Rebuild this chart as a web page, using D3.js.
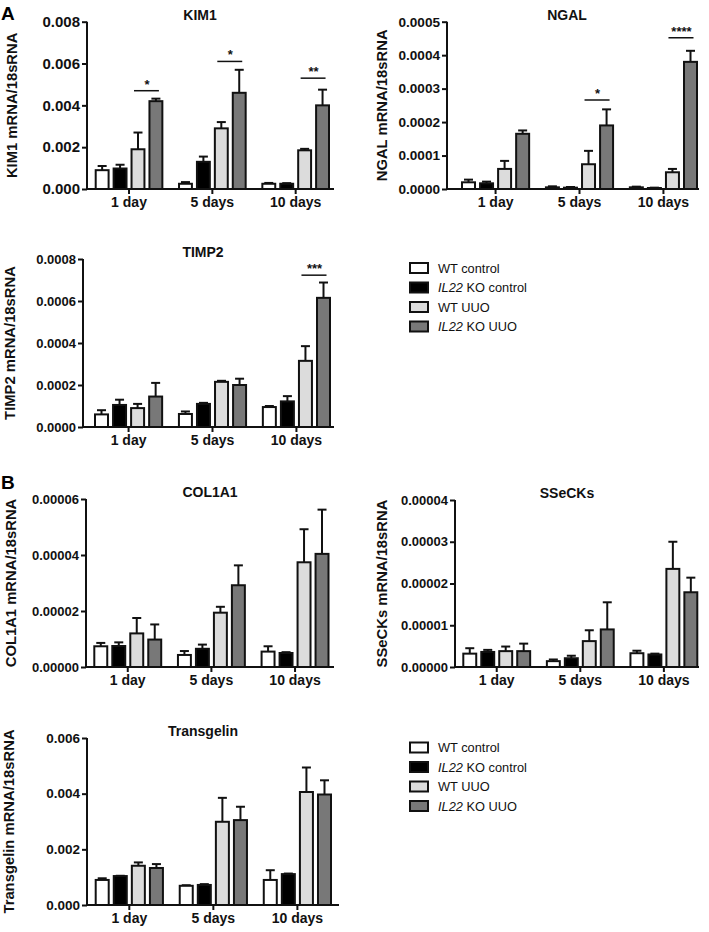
<!DOCTYPE html>
<html><head><meta charset="utf-8">
<script src="https://cdn.jsdelivr.net/npm/d3@7"></script>
<style>
body{margin:0;background:#fff;}
svg{display:block;}
text{font-family:"Liberation Sans",Arial,sans-serif;}
</style></head>
<body>
<svg id="chart" width="709" height="932"></svg>
<script>
// ---------- DATA ----------
const groups = ["1 day", "5 days", "10 days"];
const seriesNames = ["WT control", "IL22 KO control", "WT UUO", "IL22 KO UUO"];

// means [group][series] and SEM (upper error)
const kim1Mean = [[0.0009, 0.00098, 0.0019, 0.0042], [0.00025, 0.0013, 0.0029, 0.0046], [0.00025, 0.00025, 0.00185, 0.0040]];
const kim1Err  = [[0.0002, 0.00018, 0.0008, 0.00012], [0.00008, 0.00025, 0.0003, 0.0011], [0.00004, 0.00003, 0.00007, 0.00075]];
const kim1Ticks = [0, 0.002, 0.004, 0.006, 0.008];
const kim1Sig = [{g: 0, y: 0.0047, label: "*"}, {g: 1, y: 0.0061, label: "*"}, {g: 2, y: 0.0053, label: "**"}];

const ngalMean = [[0.00002, 0.000017, 0.00006, 0.000165], [0.000005, 0.000004, 0.000074, 0.00019], [0.000005, 0.000003, 0.00005, 0.00038]];
const ngalErr  = [[0.000008, 0.000005, 0.000024, 0.00001], [0.000003, 0.000002, 0.00004, 0.000048], [0.000002, 0.000001, 0.00001, 0.000033]];
const ngalTicks = [0, 0.0001, 0.0002, 0.0003, 0.0004, 0.0005];
const ngalSig = [{g: 1, y: 0.000266, label: "*"}, {g: 2, y: 0.000452, label: "****"}];

const timp2Mean = [[0.00006, 0.000105, 0.00009, 0.000145], [0.000062, 0.00011, 0.000215, 0.0002], [0.000095, 0.000122, 0.000315, 0.000615]];
const timp2Err  = [[0.00002, 0.000025, 0.00002, 0.000065], [0.000012, 0.000005, 0.000005, 0.00003], [0.000005, 0.000025, 0.00007, 0.000073]];
const timp2Ticks = [0, 0.0002, 0.0004, 0.0006, 0.0008];
const timp2Sig = [{g: 2, y: 0.000723, label: "***"}];

const col1a1Mean = [[0.0000074, 0.0000075, 0.000012, 0.0000098], [0.0000043, 0.0000065, 0.0000194, 0.0000292], [0.0000055, 0.000005, 0.0000374, 0.0000404]];
const col1a1Err  = [[0.0000012, 0.0000013, 0.0000055, 0.0000054], [0.0000014, 0.0000015, 0.0000021, 0.0000071], [0.0000019, 0.0000003, 0.0000118, 0.0000158]];
const col1a1Ticks = [0, 0.00002, 0.00004, 0.00006];
const col1a1Sig = [];

const ssecksMean = [[0.0000032, 0.0000036, 0.0000038, 0.0000038], [0.0000014, 0.0000021, 0.0000062, 0.000009], [0.0000033, 0.000003, 0.0000235, 0.0000179]];
const ssecksErr  = [[0.0000013, 0.0000005, 0.0000011, 0.0000018], [0.0000004, 0.0000006, 0.0000026, 0.0000065], [0.0000006, 0.0000002, 0.0000065, 0.0000035]];
const ssecksTicks = [0, 0.00001, 0.00002, 0.00003, 0.00004];
const ssecksSig = [];

const tagMean = [[0.0009, 0.00104, 0.00141, 0.00133], [0.00069, 0.00072, 0.00299, 0.00305], [0.0009, 0.00111, 0.00406, 0.00397]];
const tagErr  = [[0.00006, 0.00001, 0.00012, 0.00014], [0.00002, 0.00003, 0.00086, 0.00048], [0.00035, 0.00002, 0.00088, 0.00051]];
const tagTicks = [0, 0.002, 0.004, 0.006];
const tagSig = [];

// ---------- STYLE / LAYOUT ----------
const fills = ["#ffffff", "#000000", "#dcdcdc", "#787878"];
const FONT = '"Liberation Sans",Arial,sans-serif';

const panels = [
  {title: "KIM1", ylab: "KIM1 mRNA/18sRNA", mean: kim1Mean, err: kim1Err, ticks: kim1Ticks, sig: kim1Sig, dec: 3,
   x0: 87, x1: 334, b0: 95.7, b1: 329, yT: 21.7, yB: 189, labX: 11, tickFs: 15, titleX: 200},
  {title: "NGAL", ylab: "NGAL mRNA/18sRNA", mean: ngalMean, err: ngalErr, ticks: ngalTicks, sig: ngalSig, dec: 4,
   x0: 447, x1: 699, b0: 462, b1: 697, yT: 21.7, yB: 189, labX: 381, tickFs: 13.6, titleX: 567},
  {title: "TIMP2", ylab: "TIMP2 mRNA/18sRNA", mean: timp2Mean, err: timp2Err, ticks: timp2Ticks, sig: timp2Sig, dec: 4,
   x0: 83, x1: 334, b0: 95, b1: 330, yT: 259, yB: 427, labX: 9, tickFs: 13, titleX: 203},
  {title: "COL1A1", ylab: "COL1A1 mRNA/18sRNA", mean: col1a1Mean, err: col1a1Err, ticks: col1a1Ticks, sig: col1a1Sig, dec: 5,
   x0: 86, x1: 334, b0: 94.3, b1: 328.5, yT: 499, yB: 667, labX: 10, tickFs: 13, titleX: 210},
  {title: "SSeCKs", ylab: "SSeCKs mRNA/18sRNA", mean: ssecksMean, err: ssecksErr, ticks: ssecksTicks, sig: ssecksSig, dec: 5,
   x0: 455, x1: 699, b0: 463.3, b1: 697.3, yT: 500, yB: 667, labX: 381, tickFs: 13, titleX: 567},
  {title: "Transgelin", ylab: "Transgelin mRNA/18sRNA", mean: tagMean, err: tagErr, ticks: tagTicks, sig: tagSig, dec: 3,
   x0: 87, x1: 339, b0: 95.7, b1: 331, yT: 738, yB: 905, labX: 8, tickFs: 13.5, titleX: 203}
];

const svg = d3.select("#chart");

panels.forEach(p => {
  const g = svg.append("g");
  const x = d3.scaleBand().domain(groups).range([p.b0, p.b1]).paddingInner(0.2).paddingOuter(0);
  const xs = d3.scaleBand().domain(seriesNames).range([0, x.bandwidth()]).paddingInner(0.28).paddingOuter(0);
  const y = d3.scaleLinear().domain([0, p.ticks[p.ticks.length - 1]]).range([p.yB, p.yT]);
  const bw = xs.bandwidth();

  // bars
  groups.forEach((gr, gi) => {
    seriesNames.forEach((s, si) => {
      const v = p.mean[gi][si];
      const bx = x(gr) + xs(s);
      const cx = bx + bw / 2;
      const e = p.err[gi][si];
      g.append("line").attr("x1", cx).attr("x2", cx).attr("y1", y(v)).attr("y2", y(v + e))
        .attr("stroke", "#111").attr("stroke-width", 2);
      g.append("line").attr("x1", cx - 4.5).attr("x2", cx + 4.5).attr("y1", y(v + e)).attr("y2", y(v + e))
        .attr("stroke", "#111").attr("stroke-width", 2);
      g.append("rect").attr("x", bx).attr("width", bw)
        .attr("y", y(v)).attr("height", Math.max(0, y(0) - y(v)))
        .attr("fill", fills[si]).attr("stroke", "#111").attr("stroke-width", 2);
    });
  });

  // significance
  p.sig.forEach(sg => {
    const gr = groups[sg.g];
    const c3 = x(gr) + xs(seriesNames[2]) + bw / 2;
    const c4 = x(gr) + xs(seriesNames[3]) + bw / 2;
    const yy = y(sg.y);
    g.append("line").attr("x1", c3 - 4).attr("x2", c4 + 3).attr("y1", yy).attr("y2", yy)
      .attr("stroke", "#111").attr("stroke-width", 1.5);
    g.append("text").attr("x", (c3 + c4) / 2).attr("y", yy - 2).attr("text-anchor", "middle")
      .attr("font-size", 13).attr("font-weight", "bold").attr("fill", "#111").text(sg.label);
  });

  // axes
  const fmt = d3.format("." + p.dec + "f");
  const ya = g.append("g").attr("transform", `translate(${p.x0},0)`)
    .call(d3.axisLeft(y).tickValues(p.ticks).tickFormat(fmt).tickSize(5).tickSizeOuter(0).tickPadding(2));
  const xa = g.append("g").attr("transform", `translate(0,${p.yB})`)
    .call(d3.axisBottom(x).tickSize(5).tickSizeOuter(0).tickPadding(3));
  [ya, xa].forEach(a => {
    a.select(".domain").attr("stroke", "#111").attr("stroke-width", 2);
    a.selectAll(".tick line").attr("stroke", "#111").attr("stroke-width", 2);
    a.selectAll(".tick text").attr("fill", "#111").attr("font-weight", "bold")
      .attr("font-family", FONT).attr("font-size", p.tickFs);
  });
  xa.selectAll(".tick text").attr("font-size", 14);
  ya.select(".domain").attr("d", `M0,${p.yT}V${p.yB + 1}`);
  xa.select(".domain").attr("d", `M${p.x0 - 1},0H${p.x1}`);

  // title
  g.append("text").attr("x", p.titleX).attr("y", p.yT - 2).attr("text-anchor", "middle")
    .attr("font-size", 14).attr("font-weight", "bold").attr("fill", "#111").text(p.title);
  // y label
  g.append("text").attr("transform", `translate(${p.labX + 5.5},${(p.yT + p.yB) / 2}) rotate(-90)`)
    .attr("text-anchor", "middle").attr("font-size", 14.8).attr("font-weight", "bold").attr("fill", "#111").text(p.ylab);
});

// panel letters
svg.append("text").attr("x", 1).attr("y", 20).attr("font-size", 19).attr("font-weight", "bold").text("A");
svg.append("text").attr("x", 1).attr("y", 489).attr("font-size", 19).attr("font-weight", "bold").text("B");

// legends
function legend(y0) {
  const lg = svg.append("g");
  seriesNames.forEach((s, i) => {
    const cy = y0 + i * 19.5;
    lg.append("rect").attr("x", 410).attr("y", cy - 5).attr("width", 18).attr("height", 10)
      .attr("fill", fills[i]).attr("stroke", "#111").attr("stroke-width", 2);
    const t = lg.append("text").attr("x", 438).attr("y", cy + 4.5).attr("font-size", 12.8).attr("fill", "#111");
    if (s.startsWith("IL22")) {
      t.append("tspan").attr("font-style", "italic").text("IL22");
      t.append("tspan").text(s.slice(4));
    } else {
      t.text(s);
    }
  });
}
legend(268);
legend(747.5);
</script>
</body></html>
